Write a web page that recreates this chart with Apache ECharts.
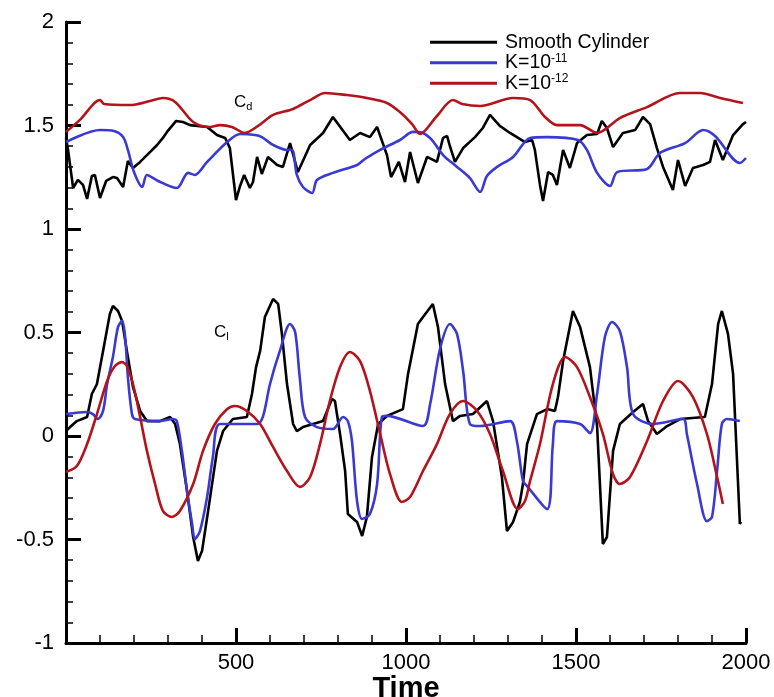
<!DOCTYPE html>
<html>
<head>
<meta charset="utf-8">
<script src="https://cdn.jsdelivr.net/npm/echarts@6/dist/echarts.min.js"></script>
<style>html,body{margin:0;padding:0;background:#fff}#c{width:774px;height:697px}</style>
</head>
<body>
<div id="c"></div>
<script>
// Series names (legend)
var seriesNames = ['Smooth Cylinder', 'K=10^-11', 'K=10^-12'];
// x-axis tick labels shown
var xTicks = [500, 1000, 1500, 2000];

// Drag coefficient Cd
var cdSmooth = [[0,1.440],[6,1.382],[21,1.198],[35,1.237],[50,1.213],[62,1.145],[76,1.256],[85,1.261],[100,1.150],[118,1.232],[138,1.251],[150,1.246],[168,1.203],[182,1.329],[197,1.295],[218,1.324],[238,1.357],[268,1.406],[285,1.440],[297,1.469],[324,1.522],[344,1.517],[365,1.502],[415,1.493],[444,1.454],[468,1.440],[482,1.391],[500,1.140],[512,1.208],[524,1.261],[541,1.198],[550,1.227],[562,1.348],[576,1.266],[594,1.348],[621,1.309],[638,1.300],[659,1.415],[682,1.275],[718,1.406],[756,1.464],[785,1.541],[835,1.430],[865,1.464],[894,1.444],[915,1.493],[944,1.357],[956,1.251],[979,1.324],[997,1.227],[1012,1.372],[1035,1.222],[1062,1.348],[1091,1.324],[1109,1.440],[1121,1.449],[1129,1.401],[1144,1.324],[1168,1.391],[1203,1.444],[1226,1.488],[1247,1.551],[1276,1.498],[1306,1.464],[1350,1.420],[1371,1.430],[1379,1.382],[1394,1.213],[1403,1.135],[1418,1.275],[1432,1.261],[1444,1.213],[1462,1.382],[1482,1.295],[1503,1.415],[1532,1.454],[1562,1.459],[1576,1.522],[1591,1.488],[1609,1.396],[1638,1.464],[1674,1.478],[1697,1.541],[1718,1.507],[1738,1.391],[1756,1.300],[1785,1.188],[1800,1.333],[1821,1.208],[1844,1.295],[1874,1.309],[1894,1.324],[1909,1.430],[1932,1.333],[1962,1.454],[1991,1.507],[2000,1.517]];
var cdK11 = [[0,1.420],[100,1.478],[141,1.473],[168,1.444],[182,1.382],[200,1.275],[224,1.203],[238,1.261],[271,1.232],[326,1.198],[359,1.271],[379,1.261],[415,1.324],[474,1.420],[512,1.459],[556,1.454],[576,1.444],[609,1.406],[650,1.382],[665,1.382],[679,1.261],[697,1.203],[724,1.174],[738,1.237],[785,1.271],[856,1.309],[879,1.338],[924,1.382],[982,1.430],[1021,1.469],[1050,1.464],[1076,1.430],[1109,1.357],[1150,1.300],[1188,1.246],[1218,1.179],[1238,1.256],[1268,1.300],[1315,1.348],[1365,1.440],[1415,1.444],[1506,1.430],[1532,1.382],[1562,1.271],[1600,1.208],[1621,1.275],[1709,1.290],[1747,1.367],[1821,1.415],[1874,1.478],[1909,1.449],[1982,1.319],[2000,1.343]];
var cdK12 = [[0,1.469],[41,1.527],[100,1.623],[112,1.604],[188,1.599],[247,1.618],[285,1.633],[321,1.614],[374,1.517],[424,1.493],[453,1.502],[488,1.493],[526,1.464],[565,1.498],[609,1.551],[668,1.580],[718,1.623],[762,1.657],[826,1.647],[885,1.633],[944,1.609],[982,1.565],[1018,1.507],[1041,1.459],[1091,1.546],[1138,1.623],[1165,1.604],[1218,1.594],[1315,1.633],[1365,1.623],[1409,1.541],[1444,1.502],[1512,1.502],[1562,1.464],[1629,1.536],[1709,1.589],[1806,1.657],[1865,1.657],[1924,1.633],[1991,1.609]];

// Lift coefficient Cl
var clSmooth = [[0,0.024],[12,0.043],[32,0.072],[62,0.092],[76,0.203],[91,0.251],[109,0.411],[129,0.589],[138,0.628],[153,0.604],[165,0.556],[179,0.411],[197,0.237],[218,0.121],[238,0.072],[276,0.072],[306,0.092],[321,0.058],[335,-0.039],[356,-0.266],[374,-0.488],[388,-0.604],[400,-0.556],[418,-0.362],[444,-0.072],[462,0.024],[491,0.082],[532,0.092],[547,0.203],[559,0.333],[571,0.411],[585,0.575],[609,0.662],[624,0.638],[635,0.493],[650,0.251],[668,0.058],[679,0.024],[697,0.043],[756,0.072],[782,0.179],[791,0.169],[806,0.010],[821,-0.169],[829,-0.377],[856,-0.415],[871,-0.483],[885,-0.391],[900,-0.101],[918,0.058],[944,0.097],[991,0.130],[1006,0.300],[1035,0.541],[1050,0.575],[1079,0.638],[1094,0.527],[1115,0.251],[1138,0.072],[1159,0.097],[1197,0.106],[1238,0.169],[1256,0.072],[1282,-0.198],[1297,-0.459],[1315,-0.415],[1335,-0.319],[1344,-0.232],[1356,-0.039],[1385,0.106],[1415,0.130],[1438,0.121],[1447,0.188],[1462,0.362],[1491,0.604],[1512,0.527],[1541,0.333],[1562,0.048],[1579,-0.522],[1591,-0.488],[1609,-0.072],[1629,0.058],[1668,0.116],[1697,0.155],[1712,0.072],[1738,0.010],[1768,0.048],[1806,0.082],[1879,0.092],[1900,0.251],[1918,0.541],[1929,0.604],[1947,0.493],[1962,0.300],[1982,-0.425],[1985,-0.415]];
var clK11 = [[0,0.106],[62,0.116],[79,0.106],[94,0.082],[109,0.121],[121,0.251],[138,0.382],[153,0.527],[165,0.556],[174,0.478],[182,0.285],[194,0.106],[203,0.082],[276,0.072],[315,0.082],[326,0.072],[341,-0.072],[356,-0.266],[371,-0.425],[379,-0.498],[394,-0.459],[415,-0.295],[432,-0.101],[453,0.058],[562,0.058],[579,0.092],[600,0.251],[629,0.411],[659,0.541],[674,0.502],[688,0.275],[703,0.092],[738,0.043],[785,0.034],[815,0.092],[829,0.072],[841,-0.024],[856,-0.314],[871,-0.401],[894,-0.377],[915,-0.232],[929,0.092],[944,0.097],[1050,0.048],[1071,0.155],[1100,0.420],[1129,0.541],[1150,0.493],[1168,0.314],[1188,0.058],[1218,0.048],[1306,0.072],[1326,-0.024],[1344,-0.217],[1356,-0.242],[1415,-0.353],[1432,-0.039],[1444,0.072],[1512,0.058],[1541,0.014],[1562,0.203],[1585,0.478],[1606,0.551],[1629,0.507],[1650,0.333],[1668,0.106],[1726,0.058],[1815,0.082],[1826,0.010],[1856,-0.232],[1885,-0.411],[1900,-0.391],[1915,-0.169],[1929,0.058],[1944,0.082],[1982,0.072]];
var clK12 = [[0,-0.174],[32,-0.145],[62,-0.039],[91,0.106],[121,0.266],[144,0.338],[165,0.357],[179,0.338],[197,0.251],[218,0.092],[238,-0.072],[262,-0.232],[285,-0.362],[312,-0.391],[335,-0.362],[374,-0.232],[403,-0.072],[438,0.058],[474,0.130],[497,0.145],[532,0.121],[571,0.058],[609,-0.053],[650,-0.169],[688,-0.246],[718,-0.198],[747,-0.039],[776,0.169],[806,0.333],[835,0.406],[865,0.362],[894,0.217],[924,0.010],[953,-0.184],[988,-0.319],[1012,-0.295],[1050,-0.169],[1091,-0.039],[1129,0.106],[1168,0.169],[1209,0.121],[1247,0.010],[1285,-0.169],[1329,-0.353],[1350,-0.314],[1365,-0.217],[1394,-0.039],[1432,0.251],[1468,0.382],[1503,0.333],[1541,0.188],[1579,0.010],[1609,-0.184],[1629,-0.232],[1659,-0.198],[1709,-0.024],[1756,0.169],[1800,0.266],[1844,0.188],[1885,0.010],[1915,-0.198],[1932,-0.329]];

var colors = ['#000000', '#3a3ad2', '#b3141c'];
var FONT = 'Liberation Sans, Arial, sans-serif';

function mk(name, data, color, smooth) {
  return {
    type: 'line', name: name, data: data, showSymbol: false, symbol: 'none',
    smooth: smooth, lineStyle: {color: color, width: 2.6}, itemStyle: {color: color},
    animation: false, silent: true
  };
}

var chart = echarts.init(document.getElementById('c'), null, {renderer: 'canvas'});
chart.setOption({
  backgroundColor: '#fff',
  animation: false,
  grid: {left: 66, right: 28, top: 22, bottom: 54, containLabel: false, outerBoundsMode: 'none'},
  legend: {
    data: seriesNames,
    orient: 'vertical',
    left: 430, top: 32, padding: 0,
    icon: 'rect',
    itemWidth: 67, itemHeight: 3, itemGap: 0,
    textStyle: {
      color: '#000', fontFamily: FONT, fontSize: 19.5, lineHeight: 20.5, padding: [0, 0, 0, 3],
      rich: {
        n: {fontSize: 19.5, fontFamily: FONT, color: '#000', lineHeight: 20.5},
        s: {fontSize: 12, fontFamily: FONT, color: '#000', verticalAlign: 'top', lineHeight: 20.5}
      }
    },
    formatter: function (name) {
      var p = name.split('^');
      return p.length > 1 ? '{n|' + p[0] + '}{s|' + p[1] + '}' : '{n|' + name + '}';
    }
  },
  xAxis: {
    type: 'value', min: 0, max: 2000, interval: 500,
    name: 'Time', nameLocation: 'middle', nameGap: 31, nameMoveOverlap: false,
    nameTextStyle: {fontFamily: FONT, fontSize: 29, fontWeight: 'bold', color: '#000'},
    axisLine: {show: true, onZero: false, lineStyle: {color: '#000', width: 3}},
    axisTick: {show: true, inside: true, length: 15, lineStyle: {color: '#000', width: 3}},
    minorTick: {show: true, splitNumber: 5, length: 8, lineStyle: {color: '#000', width: 1.5}},
    splitLine: {show: false},
    axisLabel: {
      fontFamily: FONT, fontSize: 22, color: '#000', margin: 9,
      formatter: function (v) { return xTicks.indexOf(v) >= 0 ? String(v) : ''; }
    }
  },
  yAxis: {
    type: 'value', min: -1, max: 2, interval: 0.5,
    axisLine: {show: true, onZero: false, lineStyle: {color: '#000', width: 3}},
    axisTick: {show: true, inside: true, length: 15, lineStyle: {color: '#000', width: 3}},
    minorTick: {show: true, splitNumber: 5, length: 7, lineStyle: {color: '#000', width: 1.5}},
    splitLine: {show: false},
    axisLabel: {fontFamily: FONT, fontSize: 22, color: '#000', margin: 12}
  },
  graphic: [
    {type: 'text', left: 234, top: 94, silent: true, style: {
      text: '{c|C}{s|d}', rich: {
        c: {fontSize: 17, fontFamily: FONT, fill: '#000', lineHeight: 20},
        s: {fontSize: 11, fontFamily: FONT, fill: '#000', verticalAlign: 'bottom', lineHeight: 20}
      }}},
    {type: 'text', left: 214, top: 324, silent: true, style: {
      text: '{c|C}{s|l}', rich: {
        c: {fontSize: 17, fontFamily: FONT, fill: '#000', lineHeight: 20},
        s: {fontSize: 11, fontFamily: FONT, fill: '#000', verticalAlign: 'bottom', lineHeight: 20}
      }}}
  ],
  series: [
    mk(seriesNames[0], cdSmooth, colors[0], false),
    mk(seriesNames[1], cdK11, colors[1], 0.3),
    mk(seriesNames[2], cdK12, colors[2], 0.3),
    mk(seriesNames[0], clSmooth, colors[0], false),
    mk(seriesNames[1], clK11, colors[1], 0.3),
    mk(seriesNames[2], clK12, colors[2], 0.3)
  ]
});
</script>
</body>
</html>
